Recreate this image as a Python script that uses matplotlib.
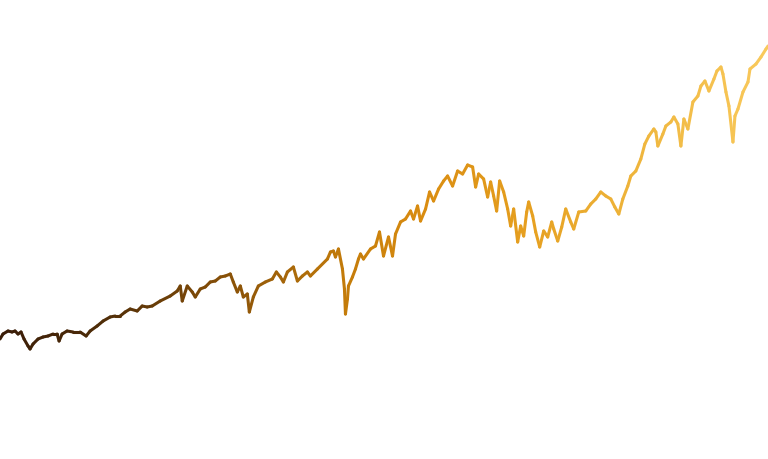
import numpy as np
import matplotlib
matplotlib.use("Agg")
import matplotlib.pyplot as plt
from matplotlib.collections import LineCollection
from matplotlib.colors import LinearSegmentedColormap

# time index (relative position along the series) and level values
t = [0, 3, 8, 12, 15, 18, 21, 24, 28, 30, 33, 38, 43, 48, 53, 57, 59, 62, 67, 73, 80, 86,
     90, 97, 103, 110, 115, 120, 125, 130, 137, 142, 147,
     152, 160, 170, 177, 180, 182, 187, 192, 195, 200, 205, 210, 215, 220, 225, 230, 233,
     237, 240, 243, 247, 249, 253, 258, 265, 272, 276, 280, 283, 287, 293, 297, 302, 307, 310,
     317, 327, 330, 333, 335, 338,
     342, 344, 345, 347, 348, 352, 355, 358,
     360, 363, 370, 375, 379, 383, 388, 392, 395, 400, 405, 410, 413, 417, 420, 425, 429, 433,
     438, 443, 447, 452, 457, 462, 467, 472, 475, 478, 483, 487,
     490, 493, 496, 499, 503, 507, 510, 513, 517, 520, 523, 526, 528, 532, 535, 539, 543, 547,
     551, 553, 557, 561, 565, 570, 573, 578, 585, 590, 595, 600, 605, 610, 614, 618, 622, 627,
     630, 635, 640, 644, 648, 653, 655, 657, 662, 665, 670, 673, 677, 680, 683, 687, 692, 697,
     700, 704, 708, 713, 716, 720, 722, 725, 728, 732, 734, 737, 742, 747, 749, 755, 760, 765, 767]
v = [120, 125, 128, 127, 128, 125, 127, 120, 113, 110, 115, 120, 122, 123, 125, 125, 118, 125,
     128, 127, 127, 123, 128, 133, 138, 142, 143, 143, 147, 150, 148, 153, 152,
     153, 158, 163, 168, 173, 158, 173, 167, 162, 170, 172, 177, 178, 182, 183, 185, 177,
     167, 173, 162, 165, 147, 162, 173, 177, 180, 187, 182, 177, 187, 192, 178, 183, 187, 183,
     190, 200, 207, 208, 202, 210,
     190, 170, 145, 160, 173, 182, 190, 200,
     205, 200, 210, 213, 227, 203, 222, 203, 225, 237, 240, 248, 240, 253, 238, 250, 267, 258,
     270, 278, 283, 273, 288, 285, 294, 292, 272, 285, 280, 262,
     277, 263, 248, 278, 267, 250, 233, 250, 217, 233, 223, 247, 257, 243, 227, 212, 228, 222,
     237, 230, 218, 232, 250, 237, 230, 247, 248, 255, 260, 267, 263, 260, 252, 245, 260, 273,
     283, 288, 300, 315, 323, 330, 327, 313, 325, 333, 337, 342, 335, 313, 340, 330, 357, 363,
     373, 378, 368, 380, 388, 392, 385, 367, 353, 317, 343, 350, 367, 377, 390, 395, 402, 410, 413]

stops = [(0.00, "#3a1d08"), (0.13, "#4e2c08"), (0.30, "#8a5208"), (0.45, "#c47c0a"),
         (0.55, "#d98c10"), (0.69, "#e6a020"), (0.85, "#f0b840"), (1.00, "#f9c95c")]
cmap = LinearSegmentedColormap.from_list("grad", stops)

fig = plt.figure(figsize=(7.68, 4.60), dpi=100)
ax = fig.add_axes([0, 0, 1, 1])
ax.set_axis_off()

x = np.array(t, dtype=float)
y = np.array(v, dtype=float)
pts = np.column_stack([x, y]).reshape(-1, 1, 2)
segs = np.concatenate([pts[:-1], pts[1:]], axis=1)
lc = LineCollection(segs, cmap=cmap, linewidths=2.2, capstyle="round", joinstyle="round")
lc.set_array((x[:-1] + x[1:]) / 2 / x.max())
lc.set_clim(0, 1)
ax.add_collection(lc)
ax.set_xlim(0, 767)
ax.set_ylim(0, 460)

fig.savefig("out.png", dpi=100, facecolor="white")
